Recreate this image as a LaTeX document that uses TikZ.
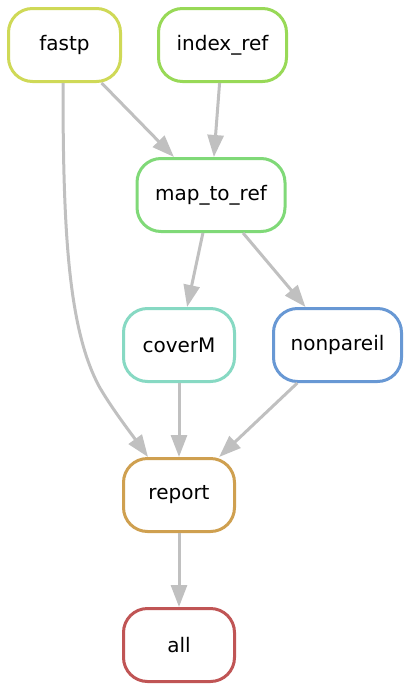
\documentclass[tikz,border=0pt]{standalone}
\usepackage{fontspec}
\setmainfont{DejaVu Sans}
\usetikzlibrary{arrows.meta,calc}
\definecolor{cfastp}{RGB}{207,217,87}
\definecolor{cindex}{RGB}{152,217,87}
\definecolor{cmap}{RGB}{128,217,120}
\definecolor{ccover}{RGB}{135,217,195}
\definecolor{cnonp}{RGB}{104,152,212}
\definecolor{creport}{RGB}{207,160,80}
\definecolor{call}{RGB}{192,85,85}
\definecolor{cedge}{RGB}{192,192,192}
\tikzset{
  rule/.style={draw=#1, line width=1.5pt, rounded corners=12pt, fill=white,
    minimum height=36.5pt, inner sep=0pt, font=\fontsize{10}{12}\selectfont, text=black},
  edge/.style={draw=cedge, line width=1.5pt, -{Triangle[length=11pt,width=8pt]}},
}
\begin{document}
\begin{tikzpicture}[x=0.5pt,y=-0.5pt]
\useasboundingbox (0,0) rectangle (410,691);
\node[rule=cfastp, minimum width=56pt] (fastp) at (64.5,45) {fastp};
\node[rule=cindex, minimum width=64pt] (index) at (222.5,45) {index\_ref};
\node[rule=cmap, minimum width=74pt] (map) at (211,195) {map\_to\_ref};
\node[rule=ccover, minimum width=55.5pt] (cover) at (179,345) {coverM};
\node[rule=cnonp, minimum width=64pt] (nonp) at (337.5,345) {nonpareil};
\node[rule=creport, minimum width=55.5pt] (report) at (179,495) {report};
\node[rule=call, minimum width=55.5pt] (all) at (179,645) {all};
\coordinate (fr) at ($(report.north)+(-31,0)$);
\coordinate (fs) at ($(fastp.south)+(-1.5,0)$);
\draw[edge] (fastp) -- (map);
\draw[edge] (index) -- (map);
\draw[edge] (fs) .. controls +(0,147) and +(-32,-58) .. ($(fs)+(37,305)$) .. controls +(13,22) and +(-18,-25) .. (fr);
\draw[edge] (map) -- (cover);
\draw[edge] (map) -- (nonp);
\draw[edge] (cover) -- (report);
\draw[edge] (nonp) -- (report);
\draw[edge] (report) -- (all);
\end{tikzpicture}
\end{document}
